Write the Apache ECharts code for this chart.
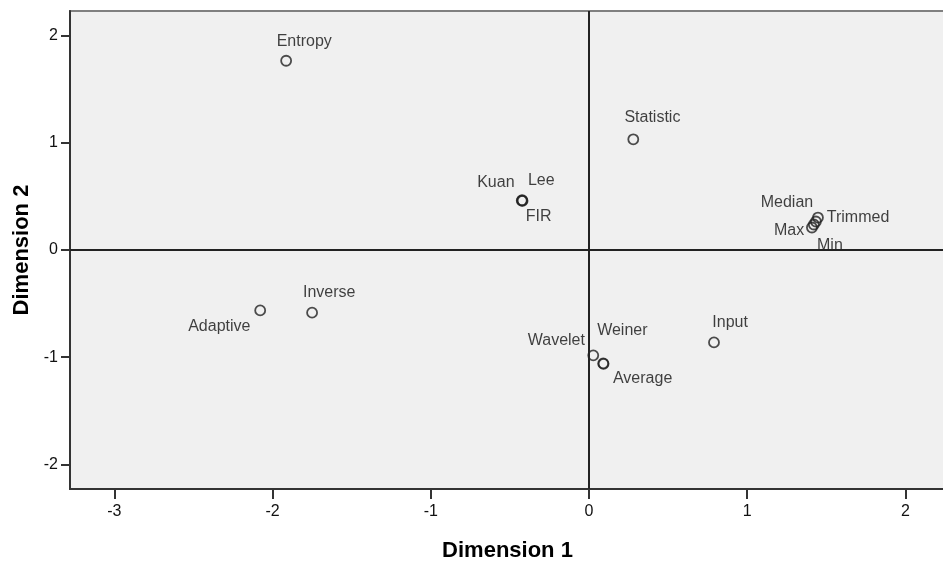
<!DOCTYPE html>
<html>
<head>
<meta charset="utf-8">
<script src="https://cdn.jsdelivr.net/npm/echarts@6/dist/echarts.min.js"></script>
<style>
html,body{margin:0;padding:0;background:#ffffff;}
#chart{width:943px;height:563px;}
</style>
</head>
<body>
<div id="chart"></div>
<script>
// Data
const names = ["Entropy","Statistic","Kuan","Lee","FIR","Median","Trimmed","Max","Min","Inverse","Adaptive","Wavelet","Weiner","Average","Input"];
const dim1  = [-1.914, 0.280, -0.425, -0.422, -0.420, 1.434, 1.447, 1.409, 1.421, -1.750, -2.078, 0.027, 0.090, 0.092, 0.790];
const dim2  = [ 1.766, 1.033,  0.461,  0.464,  0.458, 0.266, 0.303, 0.210, 0.238, -0.585, -0.564, -0.983, -1.058, -1.062, -0.862];
const xTicks = [-3, -2, -1, 0, 1, 2];
const yTicks = [-2, -1, 0, 1, 2];

// Label placement (pixel offsets of each label centre from its point)
const labelOffsets = [[19,-18],[20,-21],[-25,-17],[20,-19],[17,17],[-28,-18],[41,1],[-22,4],[17,22],[18,-19],[-40,17],[-36,-14],[20,-32],[40,16],[17,-19]];

const chart = echarts.init(document.getElementById('chart'), null, {renderer:'canvas'});
const tickFont = "'Liberation Sans Narrow','Arial Narrow','Liberation Sans',Arial,sans-serif";
const SYM = 10;

const data = names.map((n,i) => ({
  name: n,
  value: [dim1[i], dim2[i]],
  label: {position: [SYM/2 + labelOffsets[i][0], SYM/2 + labelOffsets[i][1]], align: 'center', verticalAlign: 'middle'}
}));

chart.setOption({
  animation: false,
  backgroundColor: '#ffffff',
  grid: {left: 70, top: 11, right: -2, bottom: 74, outerBoundsMode: 'none', containLabel: false,
         show: true, backgroundColor: '#f0f0f0', borderColor: '#808080', borderWidth: 2},
  xAxis: {
    type: 'value', min: -3.28, max: 2.25,
    name: 'Dimension 1', nameLocation: 'middle', nameGap: 51,
    nameTextStyle: {fontFamily: "'Liberation Sans',Arial,sans-serif", fontWeight: 'bold', fontSize: 22, color: '#000'},
    axisLine: {show: true, onZero: false, lineStyle: {color: '#333', width: 2}},
    axisTick: {show: true, length: 10, customValues: xTicks, lineStyle: {color: '#333', width: 2}},
    axisLabel: {customValues: xTicks, margin: 15, fontFamily: tickFont, fontSize: 16, color: '#111'},
    splitLine: {show: false}
  },
  yAxis: {
    type: 'value', min: -2.23, max: 2.23,
    name: 'Dimension 2', nameLocation: 'middle', nameGap: 36, nameRotate: 90,
    nameTextStyle: {fontFamily: "'Liberation Sans',Arial,sans-serif", fontWeight: 'bold', fontSize: 22, color: '#000'},
    axisLine: {show: true, onZero: false, lineStyle: {color: '#333', width: 2}},
    axisTick: {show: true, length: 9, customValues: yTicks, lineStyle: {color: '#333', width: 2}},
    axisLabel: {customValues: yTicks, margin: 12, fontFamily: tickFont, fontSize: 16, color: '#111'},
    splitLine: {show: false}
  },
  series: [{
    type: 'scatter',
    symbol: 'circle',
    symbolSize: SYM,
    itemStyle: {color: 'rgba(0,0,0,0)', borderColor: '#222', borderWidth: 1.8},
    label: {
      show: true,
      formatter: p => p.name,
      fontFamily: "'Liberation Sans',Arial,sans-serif", fontSize: 16, color: '#111'
    },
    labelLayout: {hideOverlap: false},
    data: data,
    markLine: {
      silent: true, symbol: 'none', label: {show: false},
      lineStyle: {color: '#222', width: 2, type: 'solid'},
      data: [{xAxis: 0}, {yAxis: 0}]
    },
    z: 3
  }]
});
</script>
</body>
</html>
